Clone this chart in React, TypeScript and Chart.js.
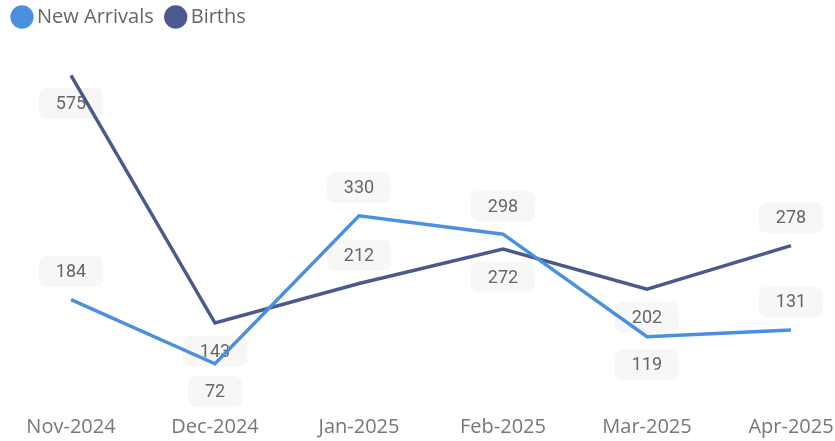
import React, { useEffect, useRef } from "react";
import { Chart, registerables } from "chart.js";

Chart.register(...registerables);

const months = ["Nov-2024", "Dec-2024", "Jan-2025", "Feb-2025", "Mar-2025", "Apr-2025"];
const newArrivals = [184, 72, 330, 298, 119, 131];
const births = [575, 143, 212, 272, 202, 278];
const newArrivalsLabelSide = ["above", "below", "above", "above", "below", "above"];
const birthsLabelSide = ["below", "below", "above", "below", "below", "above"];

const FONT = "'Open Sans', 'Noto Sans', sans-serif";
const LABEL_FONT = "Roboto, 'Open Sans', sans-serif";

const labelPlugin = {
  id: "boxLabels",
  beforeDatasetsDraw(chart: any) {
    const ctx = chart.ctx;
    const sides = [newArrivalsLabelSide, birthsLabelSide];
    ctx.save();
    ctx.font = `18px ${LABEL_FONT}`;
    ctx.textAlign = "center";
    ctx.textBaseline = "middle";
    chart.data.datasets.forEach((ds: any, di: number) => {
      const meta = chart.getDatasetMeta(di);
      meta.data.forEach((pt: any, i: number) => {
        const text = String(ds.data[i]);
        const off = sides[di][i] === "above" ? -28 : 28;
        const cx = pt.x;
        const cy = pt.y + off;
        const tw = ctx.measureText(text).width;
        const w = tw + 34;
        const h = 31;
        ctx.fillStyle = "#f7f7f7";
        ctx.beginPath();
        ctx.roundRect(cx - w / 2, cy - h / 2, w, h, 8);
        ctx.fill();
        ctx.fillStyle = "#666666";
        ctx.fillText(text, cx, cy + 1);
      });
    });
    ctx.restore();
  },
};

export default function App() {
  const ref = useRef<HTMLCanvasElement>(null);
  useEffect(() => {
    const chart = new Chart(ref.current!, {
      type: "line",
      data: {
        labels: months,
        datasets: [
          {
            label: "New Arrivals",
            data: newArrivals,
            borderColor: "#4a8fe0",
            backgroundColor: "#4a8fe0",
            borderWidth: 3.5,
            pointRadius: 0,
            tension: 0,
          },
          {
            label: "Births",
            data: births,
            borderColor: "#4b5a8c",
            backgroundColor: "#4b5a8c",
            borderWidth: 3.5,
            pointRadius: 0,
            tension: 0,
          },
        ],
      },
      options: {
        animation: false,
        responsive: true,
        maintainAspectRatio: false,
        layout: { padding: { left: 0, right: 0, top: -10, bottom: 0 } },
        plugins: {
          legend: {
            position: "top",
            align: "start",
            labels: {
              usePointStyle: true,
              pointStyle: "circle",
              boxWidth: 10,
              boxHeight: 14,
              padding: 17,
              color: "#666666",
              font: { family: FONT, size: 20 },
            },
          },
          tooltip: { enabled: false },
        },
        scales: {
          x: {
            grid: { display: false, drawTicks: false },
            border: { display: false },
            ticks: { color: "#777777", font: { family: FONT, size: 20 }, padding: 10, maxRotation: 0 },
            afterFit(scale: any) {
              scale.height = 36;
              scale.paddingRight = 44;
              scale.paddingLeft = 0;
            },
          },
          y: {
            display: true,
            min: 0,
            max: 642,
            grid: { display: false, drawTicks: false },
            border: { display: false },
            ticks: { display: false },
            afterFit(scale: any) {
              scale.width = 71;
            },
          },
        },
      },
      plugins: [labelPlugin],
    });
    return () => chart.destroy();
  }, []);
  return (
    <div style={{ position: "fixed", left: 0, top: 0, width: 835, height: 441 }}>
      <canvas ref={ref} />
    </div>
  );
}
